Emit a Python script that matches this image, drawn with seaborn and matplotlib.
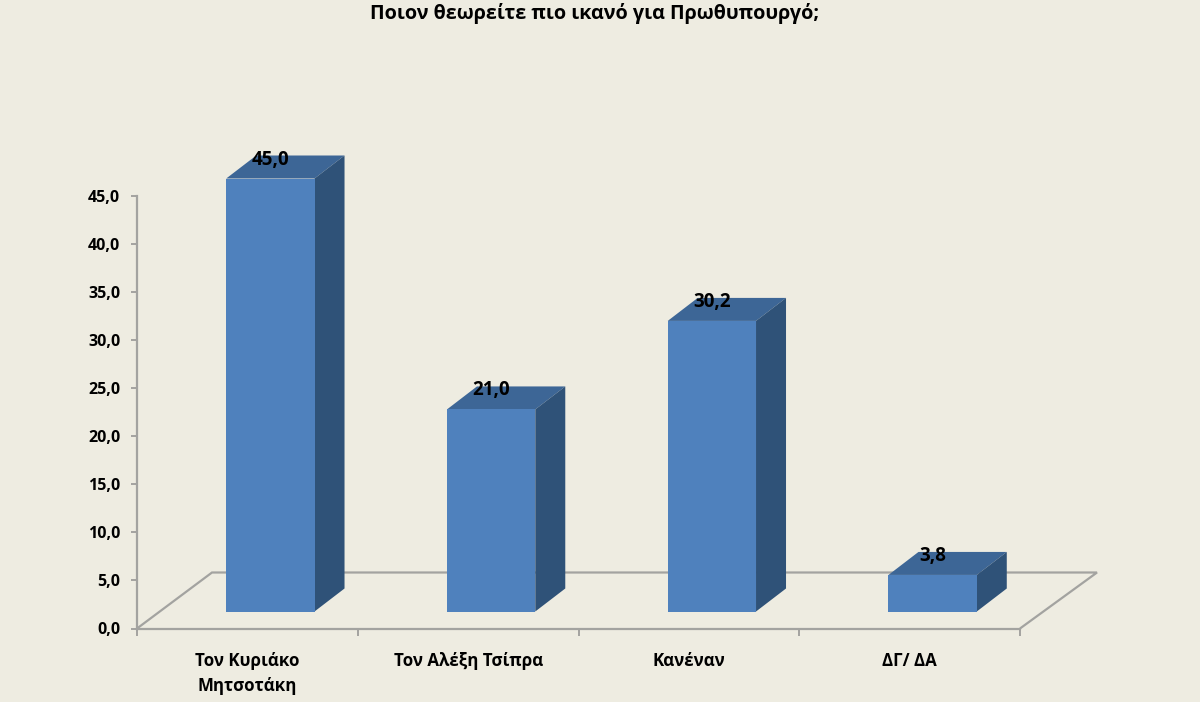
import matplotlib
matplotlib.use('Agg')
import matplotlib.pyplot as plt
import matplotlib.transforms as mtrans
from matplotlib.patches import Polygon
from matplotlib.ticker import FuncFormatter
import pandas as pd
import seaborn as sns

# ================================================================

categories = ['Τον Κυριάκο\nΜητσοτάκη', 'Τον Αλέξη Τσίπρα', 'Κανέναν', 'ΔΓ/ ΔΑ']
values = [45.0, 21.0, 30.2, 3.8]
yticks = [0, 5, 10, 15, 20, 25, 30, 35, 40, 45]
title = 'Ποιον θεωρείτε πιο ικανό για Πρωθυπουργό;'

BG = '#EEECE1'
FRONT = '#4F81BD'
TOP = '#3D6696'
SIDE = '#2F5278'
GRID = '#A3A3A0'
FONT = ['Open Sans', 'Noto Sans', 'DejaVu Sans']

# ================================================================

sns.set_theme(style='white')
plt.rcParams['font.family'] = FONT
plt.rcParams['font.weight'] = 'bold'

fig = plt.figure(figsize=(12, 7.02), dpi=100, facecolor=BG)
ax0 = fig.add_axes([137 / 1200, 1 - 628.5 / 702, (1020 - 137) / 1200, 433 / 702], facecolor='none')

df = pd.DataFrame({'cat': categories, 'val': values})
sns.barplot(df, x='cat', y='val', color=FRONT, saturation=1, width=0.4, ax=ax0, zorder=4)

ax0.set_xlim(-0.5, 3.5)
ax0.set_ylim(0, 45)
ax0.set_xlabel('')
ax0.set_ylabel('')

# front faces sit forward of the axis plane, depth faces go back from them
front = mtrans.offset_copy(ax0.transData, fig, x=23, y=17, units='dots')
DX, DY = 30, 23


def to_front(x, y):
    # data point on the front face -> figure pixels
    return front.transform((x, y))


for bar, val in zip(ax0.patches, values):
    x0, x1 = bar.get_x(), bar.get_x() + bar.get_width()
    bar.set_transform(front)
    bar.set_linewidth(0)
    bar.set_clip_on(False)
    p = [to_front(x0, val), to_front(x1, val), to_front(x1, 0)]
    top = [p[0], p[1], p[1] + (DX, DY), p[0] + (DX, DY)]
    side = [p[1], p[2], p[2] + (DX, DY), p[1] + (DX, DY)]
    for pts, col in ((top, TOP), (side, SIDE)):
        ax0.add_patch(Polygon(pts, closed=True, transform=None, facecolor=col, edgecolor='none',
                              zorder=3, clip_on=False))
    ax0.annotate(f'{val:.1f}'.replace('.', ','), xy=((x0 + x1) / 2, val), xycoords=front,
                 xytext=(0, 14), textcoords='offset pixels', ha='center', va='baseline',
                 fontsize=13.5, fontweight='bold', color='black', zorder=6, annotation_clip=False)

# floor of the 3D box
floor = [(137, 628.5), (212, 572.5), (1097, 572.5), (1020, 628.5)]
ax0.add_patch(Polygon([(x, 702 - y) for x, y in floor], closed=False, fill=False, transform=None,
                      edgecolor=GRID, linewidth=1.6, zorder=1, clip_on=False))

for s in ('top', 'right'):
    ax0.spines[s].set_visible(False)
for s in ('left', 'bottom'):
    ax0.spines[s].set_color(GRID)
    ax0.spines[s].set_linewidth(1.6)

ax0.set_yticks(yticks)
ax0.yaxis.set_major_formatter(FuncFormatter(lambda v, pos: f'{v:.1f}'.replace('.', ',')))
ax0.tick_params(axis='y', left=True, length=4, width=1.4, color=GRID, pad=8, labelsize=11.5, labelcolor='black')
ax0.set_xticks(range(len(categories)), categories, linespacing=1.5)
ax0.set_xticks([-0.5, 0.5, 1.5, 2.5, 3.5], minor=True)
ax0.tick_params(axis='x', which='major', bottom=False, length=0, pad=17, labelsize=12.2, labelcolor='black')
ax0.tick_params(axis='x', which='minor', bottom=True, length=5, width=1.4, color=GRID)

fig.text(595 / 1200, 1 - 13 / 702, title, ha='center', va='center', fontsize=14.2, fontweight='bold', color='black')

fig.savefig('out.png', dpi=100, facecolor=BG)
